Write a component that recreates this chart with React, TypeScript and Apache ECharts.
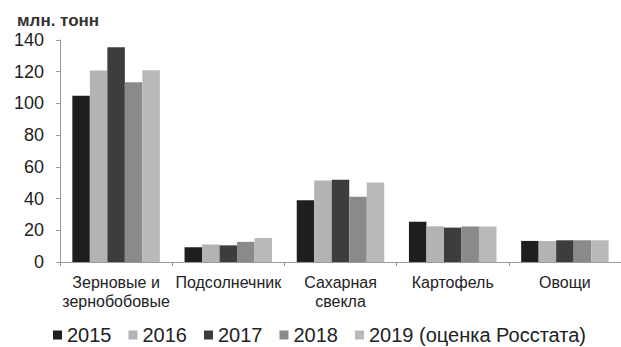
import React, { useEffect, useRef } from "react";
import * as echarts from "echarts";

const categories = ["Зерновые и\nзернобобовые", "Подсолнечник", "Сахарная\nсвекла", "Картофель", "Овощи"];
const seriesNames = ["2015", "2016", "2017", "2018", "2019 (оценка Росстата)"];
const v2015 = [104.8, 9.3, 39.0, 25.4, 13.3];
const v2016 = [120.7, 11.0, 51.4, 22.5, 13.2];
const v2017 = [135.5, 10.5, 51.9, 21.7, 13.7];
const v2018 = [113.3, 12.7, 41.2, 22.4, 13.7];
const v2019 = [121.0, 15.2, 50.2, 22.4, 13.7];
const colors = ["#1e1e1e", "#b3b3b3", "#3d3d3d", "#8a8a8a", "#b9b9b9"];
const yTicks = [0, 20, 40, 60, 80, 100, 120, 140];

export default function App() {
  const ref = useRef<HTMLDivElement>(null);
  useEffect(() => {
    const chart = echarts.init(ref.current!, null, { renderer: "svg" });
    const values = [v2015, v2016, v2017, v2018, v2019];
    const font = "'Liberation Sans', Arial, sans-serif";
    chart.setOption({
      animation: false,
      textStyle: { fontFamily: font },
      grid: { left: 60, top: 40, right: 0, bottom: 85, containLabel: false },
      title: {
        text: "млн. тонн",
        left: 12,
        top: 7,
        textStyle: { fontSize: 17, fontWeight: "bold", color: "#333", fontFamily: font },
      },
      legend: {
        data: seriesNames,
        left: 53,
        top: 325,
        padding: 0,
        itemWidth: 9,
        itemHeight: 9,
        itemGap: 17,
        icon: "rect",
        textStyle: { fontSize: 20, color: "#222", fontFamily: font },
      },
      xAxis: {
        type: "category",
        data: categories,
        axisLine: { lineStyle: { color: "#999" } },
        axisTick: { show: true, length: 4, lineStyle: { color: "#999" } },
        axisLabel: { fontSize: 16, color: "#222", lineHeight: 19, margin: 11, interval: 0, fontFamily: font },
      },
      yAxis: {
        type: "value",
        min: 0,
        max: yTicks[yTicks.length - 1],
        interval: 20,
        splitLine: { show: false },
        axisLine: { show: true, lineStyle: { color: "#999" } },
        axisTick: { show: true, length: 4, lineStyle: { color: "#999" } },
        axisLabel: { fontSize: 18, color: "#222", margin: 16, fontFamily: font },
      },
      series: seriesNames.map((name, i) => ({
        name,
        type: "bar",
        data: values[i],
        barGap: "0%",
        barCategoryGap: "22%",
        itemStyle: { color: colors[i] },
      })),
    });
    return () => chart.dispose();
  }, []);
  return <div ref={ref} style={{ width: 621, height: 347, position: "absolute", left: 0, top: 0 }} />;
}
